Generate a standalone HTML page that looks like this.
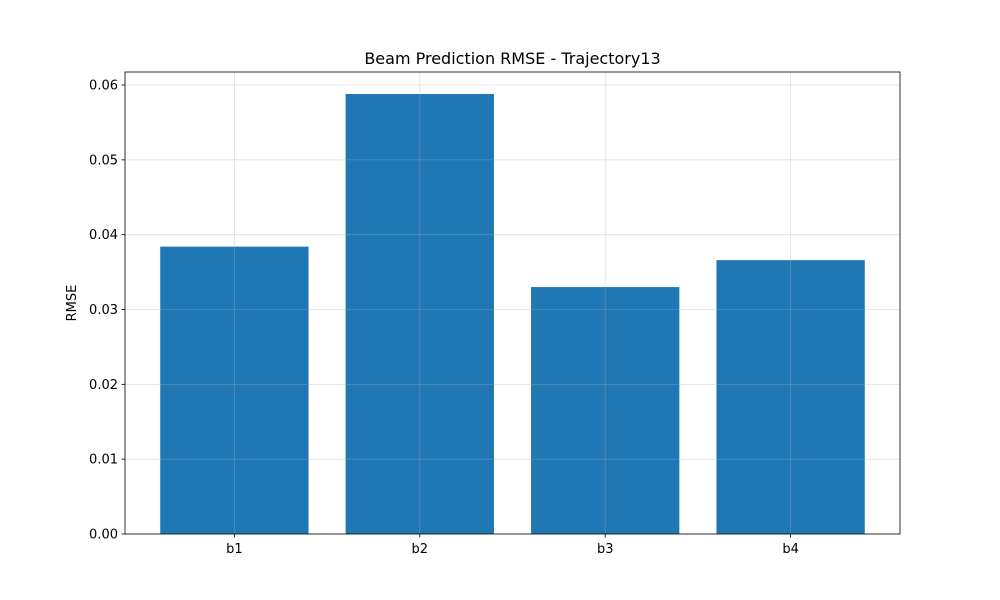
<!DOCTYPE html>
<html><head><meta charset="utf-8"><style>
body{margin:0;background:#fff;}
svg{display:block;font-family:"DejaVu Sans","Liberation Sans",sans-serif;}
</style></head><body>
<svg id="chart" width="1000" height="600" xmlns="http://www.w3.org/2000/svg">
<rect width="1000" height="600" fill="#fff"/>
<text x="512.5" y="64" text-anchor="middle" font-size="16" fill="#000">Beam Prediction RMSE - Trajectory13</text>
<text transform="translate(76,303) rotate(-90)" text-anchor="middle" font-size="13" fill="#000">RMSE</text>
<g id="bars"></g>
<g id="grid"></g>
<g id="axes"></g>
</svg>
<script>
const categories = ["b1","b2","b3","b4"];
const rmseValues = [0.0384, 0.0588, 0.0330, 0.0366];
const yTicks = [0, 0.01, 0.02, 0.03, 0.04, 0.05, 0.06];
const yTickLabels = ["0.00","0.01","0.02","0.03","0.04","0.05","0.06"];

const L=125,R=900,T=72,B=534;
const yMax=(B-T)/7483;
const span=categories.length-1+0.8, pad=span*0.05;
const xMin=-0.4-pad,xMax=categories.length-0.6+pad;
const xs=i=>L+(i-xMin)/(xMax-xMin)*(R-L);
const ys=v=>B-v/yMax*(B-T);
const NS="http://www.w3.org/2000/svg";
function mk(tag,attrs,parent){const e=document.createElementNS(NS,tag);for(const k in attrs)e.setAttribute(k,attrs[k]);parent.appendChild(e);return e;}
const bars=document.getElementById('bars'),grid=document.getElementById('grid'),axes=document.getElementById('axes');
const bw=0.8/(xMax-xMin)*(R-L);
categories.forEach((c,i)=>{
  const r=mk('rect',{x:xs(i)-bw/2,y:ys(rmseValues[i]),width:bw,height:B-ys(rmseValues[i]),fill:'#1f77b4'},bars);
  
  
  const g=mk('line',{x1:xs(i),x2:xs(i),y1:T,y2:B,stroke:'#b0b0b0','stroke-opacity':0.4,'stroke-width':0.8},grid);
  
  
  mk('line',{x1:xs(i),x2:xs(i),y1:B,y2:B+3.5,stroke:'#000','stroke-width':0.8},axes);
  const t=mk('text',{x:xs(i),y:B+19,'text-anchor':'middle','font-size':13,fill:'#000'},axes);
  t.textContent=c;
  
  
});
yTicks.forEach((v,i)=>{
  const y=ys(v);
  const g=mk('line',{x1:L,x2:R,y1:y,y2:y,stroke:'#b0b0b0','stroke-opacity':0.4,'stroke-width':0.8},grid);
  
  
  mk('line',{x1:L-3.5,x2:L,y1:y,y2:y,stroke:'#000','stroke-width':0.8},axes);
  const t=mk('text',{x:L-7,y:y+4.5,'text-anchor':'end','font-size':13,fill:'#000'},axes);
  t.textContent=yTickLabels[i];
  
  
});
const f=mk('rect',{x:L,y:T,width:R-L,height:B-T,fill:'none',stroke:'#000','stroke-width':0.8},axes);


</script>
</body></html>
